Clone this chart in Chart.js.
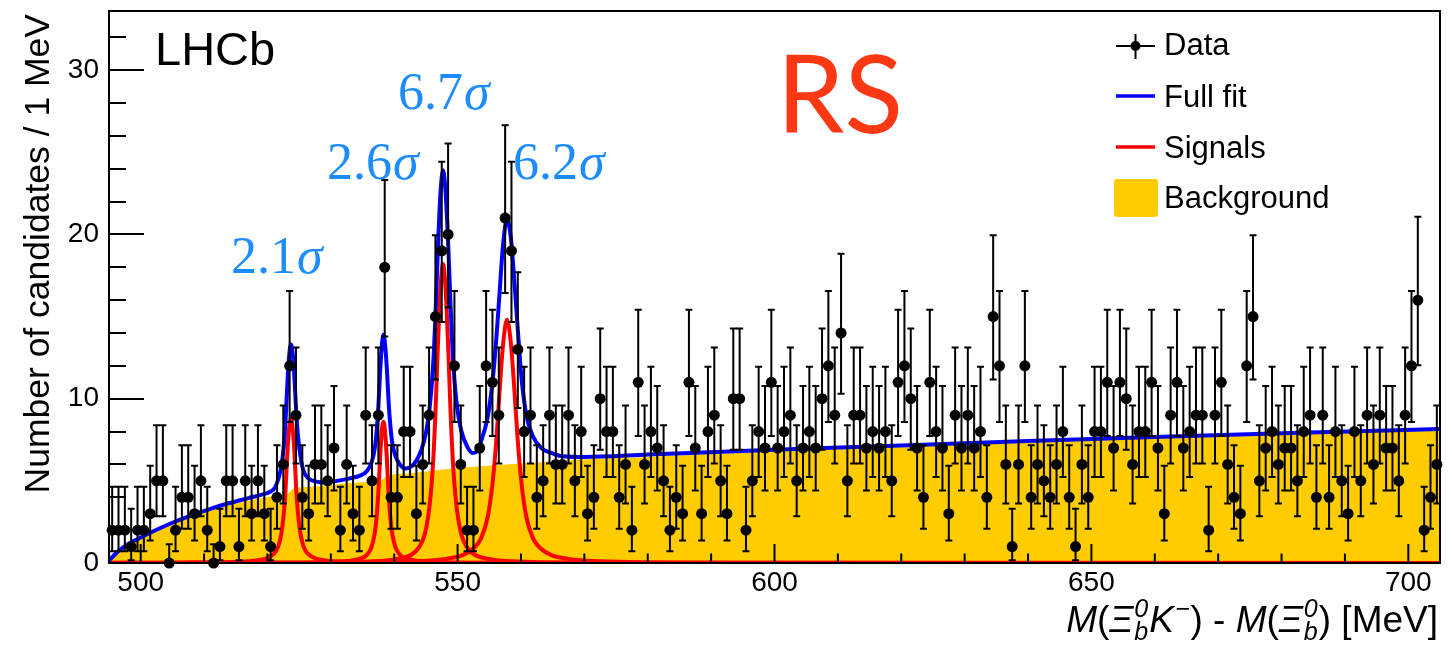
<!DOCTYPE html>
<html>
<head>
<meta charset="utf-8">
<script src="https://cdn.jsdelivr.net/npm/chart.js@4.4.0/dist/chart.umd.min.js"></script>
<style>
  html, body { margin: 0; padding: 0; background: #fff; }
  #wrap { width: 1452px; height: 645px; }
</style>
</head>
<body>
<div id="wrap"><canvas id="massChart" width="1452" height="645"></canvas></div>
<script>
const massMin = 495;
const massMax = 705;
const countMax = 33.6;

// candidates per 1 MeV bin, first bin centred at 495.5 MeV
const counts = [
    2, 2, 2, 1, 2, 2, 3, 5, 5, 0,
    2, 4, 4, 3, 5, 2, 0, 1, 5, 5,
    1, 5, 3, 5, 3, 1, 4, 6, 12, 9,
    4, 3, 6, 6, 5, 7, 2, 6, 3, 2,
    9, 5, 9, 18, 4, 4, 8, 8, 3, 6,
    9, 15, 19, 20, 12, 6, 2, 2, 7, 12,
    11, 9, 21, 19, 13, 8, 9, 4, 5, 9,
    6, 6, 9, 5, 8, 3, 4, 10, 8, 8,
    4, 6, 2, 11, 6, 8, 7, 5, 2, 4,
    3, 11, 7, 3, 8, 9, 5, 3, 10, 10,
    2, 5, 8, 7, 11, 7, 8, 9, 5, 7,
    8, 7, 10, 12, 9, 14, 5, 9, 9, 7,
    8, 7, 8, 5, 11, 12, 10, 7, 4, 11,
    8, 7, 3, 9, 7, 9, 7, 8, 4, 15,
    12, 6, 1, 6, 12, 4, 6, 5, 4, 6,
    8, 4, 1, 6, 4, 8, 8, 11, 7, 11,
    10, 6, 8, 8, 11, 7, 3, 9, 11, 7,
    8, 9, 9, 2, 9, 11, 6, 4, 3, 12,
    15, 5, 7, 8, 6, 7, 7, 5, 8, 9,
    4, 9, 4, 8, 5, 3, 8, 5, 9, 6,
    9, 7, 7, 5, 9, 12, 16, 2, 4, 6
];

// 68% Poisson intervals (lower / upper edge) for n = 0..21
const poissonLo = [0, 0.173, 0.708, 1.367, 2.086, 2.840, 3.620, 4.419, 5.232, 6.057, 6.891,
    7.734, 8.583, 9.438, 10.299, 11.164, 12.034, 12.907, 13.783, 14.663, 15.545, 16.430];
const poissonHi = [1.148, 3.300, 4.638, 5.918, 7.163, 8.382, 9.584, 10.770, 11.945, 13.110, 14.267,
    15.416, 16.560, 17.697, 18.829, 19.957, 21.080, 22.199, 23.315, 24.427, 25.536, 26.643];

// background component
const bkgMass = [495, 495.5, 496, 497, 498, 500, 502, 505, 508, 511, 514, 517, 520, 522, 523.2, 524.2,
    526, 530, 534, 537.8, 538.8, 542, 546, 550, 555, 560, 565, 580, 600, 620, 640, 660, 680, 705];
const bkgLevel = [0, 0.3, 0.5, 0.82, 1.08, 1.48, 1.85, 2.35, 2.8, 3.2, 3.52, 3.8, 4.02, 4.15, 4.22, 4.55,
    4.62, 4.75, 4.9, 5.0, 5.3, 5.45, 5.62, 5.78, 5.92, 6.05, 6.2, 6.45, 6.8, 7.05, 7.33, 7.6, 7.85, 8.12];

// full fit
const fitMass = [495, 496, 497, 498, 500, 502, 505, 508, 511, 514, 517, 519, 520.5,
    521.2, 521.7, 522.2, 522.55, 522.85, 523.1, 523.4, 523.7, 524.0, 524.3, 524.55, 524.85, 525.2, 525.7, 526.5, 527.7, 529,
    531, 533, 534.8, 535.7, 536.4, 536.9, 537.22, 537.5, 537.74, 538.02, 538.3, 538.58, 538.86, 539.1, 539.38, 539.7, 540.2, 540.9,
    541.8, 542.8, 543.6, 544.3, 545.0, 545.55, 546.1, 546.5, 546.86, 547.28, 547.7, 548.12, 548.54, 548.9, 549.3, 549.85,
    550.55, 551.5, 552.4, 553.1, 553.7, 554.75, 555.5, 556.1, 556.65, 557.2, 557.8, 558.4, 558.95, 559.5, 560.1, 560.85,
    561.9, 563.2, 564.8, 566.5, 570, 580, 600, 620, 640, 660, 680, 705];
const fitLevel = [0.15, 0.55, 0.88, 1.15, 1.55, 1.93, 2.45, 2.9, 3.3, 3.65, 3.95, 4.15, 4.35,
    4.6, 5.1, 5.9, 7.0, 8.6, 10.6, 12.5, 13.3, 12.7, 11.0, 9.1, 7.6, 6.5, 5.6, 5.15, 4.95, 4.9,
    5.0, 5.15, 5.35, 5.6, 6.1, 6.9, 8.0, 9.5, 11.4, 13.1, 13.9, 13.2, 11.7, 9.9, 8.4, 7.3, 6.5, 6.0,
    5.75, 5.9, 6.3, 6.9, 7.9, 9.3, 11.8, 15.0, 18.8, 22.4, 23.9, 22.5, 19.2, 15.6, 12.3, 9.7,
    8.1, 7.1, 6.7, 6.8, 7.4, 8.9, 11.0, 13.6, 16.6, 19.5, 20.9, 19.8, 17.2, 14.2, 11.2, 9.0,
    7.7, 7.0, 6.7, 6.5, 6.45, 6.6, 6.9, 7.15, 7.42, 7.67, 7.9, 8.16];

// the four signal components
const peak1Mass = [495, 506.7, 513.7, 517.7, 519.7, 520.9, 521.7, 522.2, 522.55, 522.85, 523.1, 523.4, 523.7,
    524.0, 524.3, 524.55, 524.85, 525.2, 525.7, 526.5, 527.7, 529.7, 533.7, 540.7, 553.7, 705];
const peak1Level = [0.008, 0.02, 0.05, 0.12, 0.26, 0.52, 1.0, 1.8, 2.9, 4.4, 6.4, 8.1, 8.8,
    8.1, 6.4, 4.4, 2.9, 1.8, 1.0, 0.52, 0.26, 0.12, 0.05, 0.02, 0.008, 0.002];

const peak2Mass = [495, 508.3, 522.3, 528.8, 532.7, 534.5, 535.7, 536.4, 536.9, 537.22, 537.5, 537.74, 538.02, 538.3,
    538.58, 538.86, 539.1, 539.38, 539.7, 540.2, 540.9, 542.1, 543.9, 547.8, 554.3, 568.3, 705];
const peak2Level = [0.004, 0.008, 0.02, 0.05, 0.12, 0.25, 0.5, 0.95, 1.75, 2.8, 4.3, 6.2, 7.9, 8.6,
    7.9, 6.2, 4.3, 2.8, 1.75, 0.95, 0.5, 0.25, 0.12, 0.05, 0.02, 0.008, 0.003];

const peak3Mass = [495, 520.7, 532.7, 537.7, 540.7, 542.7, 543.9, 544.85, 545.55, 546.1, 546.5, 546.86, 547.28, 547.7,
    548.12, 548.54, 548.9, 549.3, 549.85, 550.55, 551.5, 552.7, 554.7, 557.7, 562.7, 574.7, 705];
const peak3Level = [0.006, 0.015, 0.05, 0.12, 0.26, 0.5, 0.95, 1.8, 3.4, 5.9, 9.1, 12.9, 16.6, 18.2,
    16.6, 12.9, 9.1, 5.9, 3.4, 1.8, 0.95, 0.5, 0.26, 0.12, 0.05, 0.015, 0.004];

const peak4Mass = [495, 520.8, 537.8, 544.3, 548.2, 550.8, 552.4, 553.7, 554.75, 555.5, 556.1, 556.65, 557.2, 557.8,
    558.4, 558.95, 559.5, 560.1, 560.85, 561.9, 563.2, 564.8, 567.4, 571.3, 577.8, 594.8, 705];
const peak4Level = [0.008, 0.015, 0.05, 0.12, 0.25, 0.48, 0.85, 1.5, 2.8, 4.8, 7.4, 10.6, 13.4, 14.8,
    13.4, 10.6, 7.4, 4.8, 2.8, 1.5, 0.85, 0.48, 0.25, 0.12, 0.05, 0.015, 0.006];

// axis ticks
const xMajor = [500, 550, 600, 650, 700];
const yMajor = [0, 10, 20, 30];

// significance labels, anchored at (mass, count) of their left baseline
const sigmaText = ['2.1', '2.6', '6.7', '6.2'];
const sigmaMass = [514.25, 529.4, 540.6, 558.75];
const sigmaCount = [17.68, 23.35, 27.66, 23.35];

const fitColour = '#0000ff';
const sigColour = '#ff0000';
const bkgColour = '#ffcc00';
const sans = '"Liberation Sans", Arial, Helvetica, sans-serif';
const serif = '"Liberation Serif", "Times New Roman", serif';

function pts(xs, ys) {
    return xs.map((x, i) => ({ x: x, y: ys[i] }));
}

function signalSet(label, xs, ys) {
    return {
        label: label, data: pts(xs, ys), borderColor: sigColour, borderWidth: 4,
        pointRadius: 0, cubicInterpolationMode: 'monotone', fill: false, order: 2
    };
}

// vertical error bars under the data markers
const errorBars = {
    id: 'errorBars',
    beforeDatasetDraw(chart, args) {
        if (args.index !== 0) return;
        const { ctx, scales: { x, y } } = chart;
        ctx.save();
        ctx.strokeStyle = '#000';
        ctx.lineWidth = 2;
        counts.forEach((n, i) => {
            const px = x.getPixelForValue(massMin + 0.5 + i);
            const lo = y.getPixelForValue(poissonLo[n]);
            const hi = y.getPixelForValue(poissonHi[n]);
            ctx.beginPath();
            ctx.moveTo(px, lo); ctx.lineTo(px, hi);
            ctx.moveTo(px - 3.5, hi); ctx.lineTo(px + 3.5, hi);
            if (n > 0) { ctx.moveTo(px - 3.5, lo); ctx.lineTo(px + 3.5, lo); }
            ctx.stroke();
        });
        ctx.restore();
    }
};

// frame, inward ticks, labels, titles and legend in the ROOT style
const rootFrame = {
    id: 'rootFrame',
    beforeDraw(chart) {
        const ctx = chart.ctx;
        ctx.save();
        ctx.fillStyle = '#fff';
        ctx.fillRect(0, 0, chart.width, chart.height);
        ctx.restore();
    },
    afterDatasetsDraw(chart) {
        const { ctx, chartArea: a, scales: { x, y } } = chart;
        ctx.save();
        ctx.strokeStyle = '#000';
        ctx.lineWidth = 2;
        ctx.strokeRect(a.left, a.top, a.right - a.left, a.bottom - a.top);

        // y ticks: major every 10, minor every 2
        ctx.beginPath();
        for (let v = 0; v <= countMax; v += 2) {
            const py = Math.round(y.getPixelForValue(v));
            const len = yMajor.includes(v) ? 35 : 17;
            ctx.moveTo(a.left, py); ctx.lineTo(a.left + len, py);
        }
        // x ticks: major every 50, minor every 10
        for (let m = 500; m <= massMax; m += 10) {
            const px = x.getPixelForValue(m);
            const len = xMajor.includes(m) ? 19 : 9.5;
            ctx.moveTo(px, a.bottom); ctx.lineTo(px, a.bottom - len);
        }
        ctx.stroke();

        ctx.fillStyle = '#000';
        ctx.font = '28px ' + sans;
        ctx.textAlign = 'right';
        ctx.textBaseline = 'middle';
        yMajor.forEach(v => ctx.fillText(String(v), a.left - 10, y.getPixelForValue(v)));
        ctx.textAlign = 'center';
        ctx.textBaseline = 'alphabetic';
        xMajor.forEach(m => ctx.fillText(String(m), x.getPixelForValue(m), 591));

        // y title
        ctx.save();
        ctx.translate(49, 14);
        ctx.rotate(-Math.PI / 2);
        ctx.font = '35.5px ' + sans;
        ctx.textAlign = 'right';
        ctx.fillText('Number of candidates / 1 MeV', 0, 0);
        ctx.restore();

        drawMassTitle(ctx, a.right - 2, 632);

        // LHCb tag
        ctx.textAlign = 'left';
        ctx.font = '47px ' + sans;
        ctx.fillText('LHCb', 155, 65);

        // RS tag
        ctx.fillStyle = '#ff3814';
        ctx.font = '108px Lato, "Noto Sans", sans-serif';
        ctx.textAlign = 'center';
        ctx.fillText('RS', 840, 133);

        // local significances
        ctx.fillStyle = '#1c8cff';
        ctx.textAlign = 'left';
        sigmaText.forEach((s, i) => {
            let px = x.getPixelForValue(sigmaMass[i]);
            const py = y.getPixelForValue(sigmaCount[i]);
            ctx.font = '52px ' + serif;
            ctx.fillText(s, px, py);
            px += ctx.measureText(s).width + 1;
            ctx.font = 'italic 52px ' + serif;
            ctx.fillText('\u03c3', px, py);
        });

        drawLegend(ctx);
        ctx.restore();
    }
};

function drawMassTitle(ctx, right, base) {
    const big = 37, small = 25;
    const parts = [
        { t: 'M', it: true }, { t: '(' }, { t: '\u039e', it: true }, { sub: 'b', sup: '0' },
        { t: 'K', it: true }, { sup: '\u2212' }, { t: ')' }, { t: ' - ' },
        { t: 'M', it: true }, { t: '(' }, { t: '\u039e', it: true }, { sub: 'b', sup: '0' },
        { t: ')' }, { t: ' [MeV]' }
    ];
    const fontOf = (size, it) => (it ? 'italic ' : '') + size + 'px ' + sans;
    const widthOf = p => {
        if (p.t !== undefined) { ctx.font = fontOf(big, p.it); return ctx.measureText(p.t).width; }
        ctx.font = fontOf(small, true);
        return Math.max(p.sub ? ctx.measureText(p.sub).width : 0, ctx.measureText(p.sup).width) + 2;
    };
    const total = parts.reduce((s, p) => s + widthOf(p), 0);
    let cx = right - total;
    ctx.fillStyle = '#000';
    ctx.textAlign = 'left';
    ctx.textBaseline = 'alphabetic';
    parts.forEach(p => {
        const w = widthOf(p);
        if (p.t !== undefined) {
            ctx.font = fontOf(big, p.it);
            ctx.fillText(p.t, cx, base);
        } else {
            ctx.font = fontOf(small, true);
            if (p.sub) ctx.fillText(p.sub, cx + 1, base + 8);
            ctx.fillText(p.sup, cx + 1, base - 15);
        }
        cx += w;
    });
}

function drawLegend(ctx) {
    const sx = 1116, ex = 1155, tx = 1164;
    ctx.save();
    ctx.lineCap = 'butt';
    // Data
    ctx.strokeStyle = '#000';
    ctx.lineWidth = 2;
    ctx.beginPath();
    ctx.moveTo(sx, 46); ctx.lineTo(ex, 46);
    ctx.moveTo(1135.5, 34); ctx.lineTo(1135.5, 59);
    ctx.stroke();
    ctx.fillStyle = '#000';
    ctx.beginPath(); ctx.arc(1135.5, 46, 5, 0, Math.PI * 2); ctx.fill();
    // Full fit
    ctx.lineWidth = 3.5;
    ctx.strokeStyle = fitColour;
    ctx.beginPath(); ctx.moveTo(sx, 96); ctx.lineTo(ex, 96); ctx.stroke();
    // Signals
    ctx.strokeStyle = sigColour;
    ctx.beginPath(); ctx.moveTo(sx, 147); ctx.lineTo(ex, 147); ctx.stroke();
    // Background
    ctx.fillStyle = bkgColour;
    ctx.beginPath();
    ctx.roundRect(1114, 179, 44, 38, 3);
    ctx.fill();

    ctx.fillStyle = '#000';
    ctx.font = '31px ' + sans;
    ctx.textAlign = 'left';
    ctx.textBaseline = 'alphabetic';
    ctx.fillText('Data', tx, 55);
    ctx.fillText('Full fit', tx, 107);
    ctx.fillText('Signals', tx, 158);
    ctx.fillText('Background', tx, 208);
    ctx.restore();
}

new Chart(document.getElementById('massChart'), {
    type: 'line',
    data: {
        datasets: [
            {
                label: 'Data',
                data: counts.map((n, i) => ({ x: massMin + 0.5 + i, y: n })),
                showLine: false, pointRadius: 5.5, pointHoverRadius: 5.5,
                pointBackgroundColor: '#000', pointBorderWidth: 0, clip: false, order: 0
            },
            {
                label: 'Full fit', data: pts(fitMass, fitLevel), borderColor: fitColour, borderWidth: 4,
                pointRadius: 0, cubicInterpolationMode: 'monotone', fill: false, order: 1
            },
            signalSet('Signal 1', peak1Mass, peak1Level),
            signalSet('Signal 2', peak2Mass, peak2Level),
            signalSet('Signal 3', peak3Mass, peak3Level),
            signalSet('Signal 4', peak4Mass, peak4Level),
            {
                label: 'Background', data: pts(bkgMass, bkgLevel), borderColor: bkgColour, borderWidth: 0,
                backgroundColor: bkgColour, fill: 'origin', pointRadius: 0,
                cubicInterpolationMode: 'monotone', order: 3
            }
        ]
    },
    options: {
        responsive: false,
        animation: false,
        devicePixelRatio: 1,
        layout: { padding: { left: 109, right: 12, top: 11, bottom: 82 } },
        plugins: { legend: { display: false }, tooltip: { enabled: false } },
        scales: {
            x: { type: 'linear', min: massMin, max: massMax, display: false },
            y: { type: 'linear', min: 0, max: countMax, display: false }
        }
    },
    plugins: [errorBars, rootFrame]
});
</script>
</body>
</html>
